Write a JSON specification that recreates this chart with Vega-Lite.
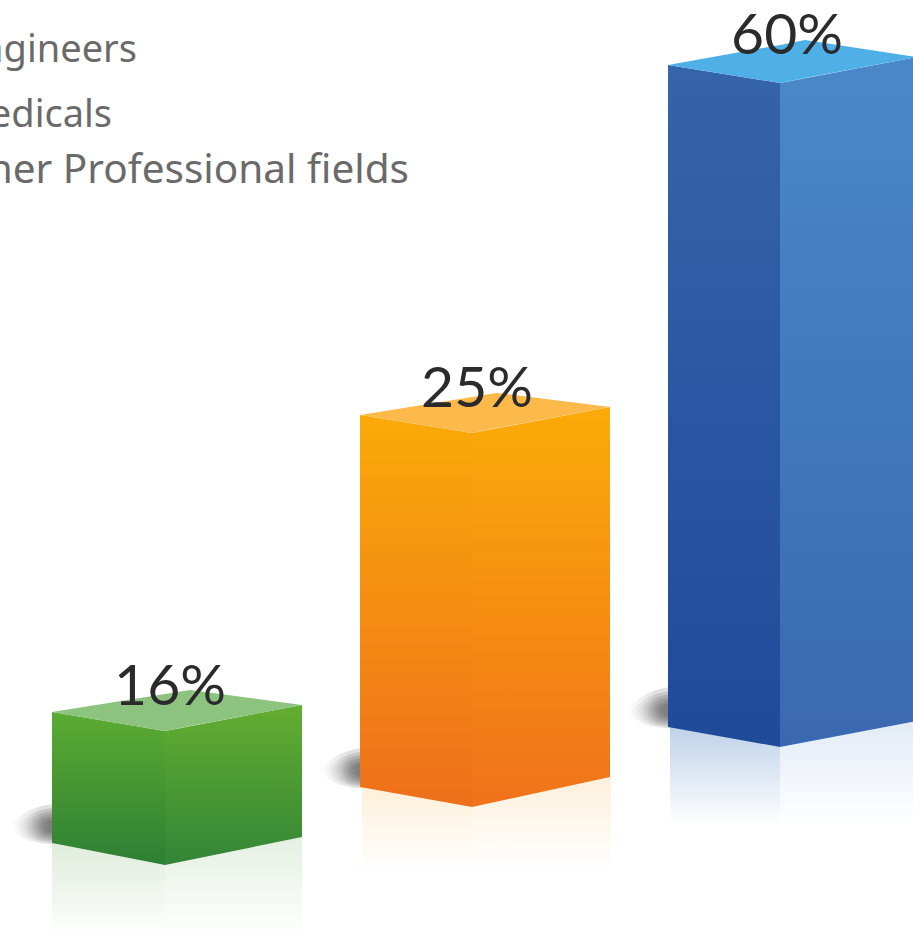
{
"$schema":"https://vega.github.io/schema/vega-lite/v6.json",
"width":913,"height":937,"autosize":{"type":"none"},"padding":0,"background":"white",
"config":{"view":{"stroke":null}},
"datasets":{
"shadows":[
{"ring":"g1","across":10,"upper":826,"lower":826},{"ring":"g1","across":28,"upper":811,"lower":840},{"ring":"g1","across":60,"upper":803,"lower":845},
{"ring":"g2","across":15,"upper":826,"lower":826},{"ring":"g2","across":31,"upper":814,"lower":838},{"ring":"g2","across":60,"upper":807,"lower":843},
{"ring":"g3","across":20,"upper":826,"lower":826},{"ring":"g3","across":34,"upper":816,"lower":836},{"ring":"g3","across":60,"upper":810,"lower":841},
{"ring":"g4","across":25,"upper":826,"lower":826},{"ring":"g4","across":37,"upper":818,"lower":834},{"ring":"g4","across":60,"upper":813,"lower":839},
{"ring":"g5","across":30,"upper":826,"lower":826},{"ring":"g5","across":40,"upper":820,"lower":832},{"ring":"g5","across":60,"upper":816,"lower":837},
{"ring":"g6","across":35,"upper":826,"lower":826},{"ring":"g6","across":43,"upper":822,"lower":830},{"ring":"g6","across":60,"upper":819,"lower":835},
{"ring":"o1","across":320,"upper":770,"lower":770},{"ring":"o1","across":338,"upper":755,"lower":784},{"ring":"o1","across":368,"upper":747,"lower":789},
{"ring":"o2","across":325,"upper":770,"lower":770},{"ring":"o2","across":341,"upper":758,"lower":782},{"ring":"o2","across":368,"upper":751,"lower":787},
{"ring":"o3","across":330,"upper":770,"lower":770},{"ring":"o3","across":344,"upper":760,"lower":780},{"ring":"o3","across":368,"upper":754,"lower":785},
{"ring":"o4","across":335,"upper":770,"lower":770},{"ring":"o4","across":347,"upper":762,"lower":778},{"ring":"o4","across":368,"upper":757,"lower":783},
{"ring":"o5","across":340,"upper":770,"lower":770},{"ring":"o5","across":350,"upper":764,"lower":776},{"ring":"o5","across":368,"upper":760,"lower":781},
{"ring":"o6","across":345,"upper":770,"lower":770},{"ring":"o6","across":353,"upper":766,"lower":774},{"ring":"o6","across":368,"upper":763,"lower":779},
{"ring":"b1","across":626,"upper":710,"lower":710},{"ring":"b1","across":645,"upper":695,"lower":724},{"ring":"b1","across":676,"upper":686,"lower":729},
{"ring":"b2","across":631,"upper":710,"lower":710},{"ring":"b2","across":648,"upper":698,"lower":722},{"ring":"b2","across":676,"upper":690,"lower":727},
{"ring":"b3","across":636,"upper":710,"lower":710},{"ring":"b3","across":651,"upper":700,"lower":720},{"ring":"b3","across":676,"upper":693,"lower":725},
{"ring":"b4","across":641,"upper":710,"lower":710},{"ring":"b4","across":654,"upper":702,"lower":718},{"ring":"b4","across":676,"upper":696,"lower":723},
{"ring":"b5","across":646,"upper":710,"lower":710},{"ring":"b5","across":657,"upper":704,"lower":716},{"ring":"b5","across":676,"upper":699,"lower":721},
{"ring":"b6","across":651,"upper":710,"lower":710},{"ring":"b6","across":660,"upper":706,"lower":714},{"ring":"b6","across":676,"upper":702,"lower":719}
],
"faces":[
{"bar":"Engineers","part":"mirrorL","across":52,"upper":843,"lower":937},
{"bar":"Engineers","part":"mirrorL","across":165,"upper":865,"lower":937},
{"bar":"Engineers","part":"mirrorR","across":165,"upper":865,"lower":937},
{"bar":"Engineers","part":"mirrorR","across":302,"upper":837,"lower":937},
{"bar":"Medicals","part":"mirrorL","across":362,"upper":787,"lower":872},
{"bar":"Medicals","part":"mirrorL","across":472,"upper":807,"lower":872},
{"bar":"Medicals","part":"mirrorR","across":472,"upper":807,"lower":872},
{"bar":"Medicals","part":"mirrorR","across":611,"upper":777,"lower":872},
{"bar":"Other","part":"mirrorL","across":670,"upper":727,"lower":825},
{"bar":"Other","part":"mirrorL","across":780,"upper":747,"lower":825},
{"bar":"Other","part":"mirrorR","across":780,"upper":747,"lower":825},
{"bar":"Other","part":"mirrorR","across":917,"upper":721,"lower":825},
{"bar":"Engineers","part":"left","across":52,"upper":712,"lower":843},
{"bar":"Engineers","part":"left","across":165,"upper":731,"lower":865},
{"bar":"Engineers","part":"right","across":165,"upper":731,"lower":865},
{"bar":"Engineers","part":"right","across":302,"upper":705,"lower":837},
{"bar":"Engineers","part":"top","across":52,"upper":712,"lower":712},
{"bar":"Engineers","part":"top","across":165,"upper":694,"lower":731},
{"bar":"Engineers","part":"top","across":190,"upper":690,"lower":726},
{"bar":"Engineers","part":"top","across":302,"upper":705,"lower":705},
{"bar":"Medicals","part":"left","across":360,"upper":415,"lower":787},
{"bar":"Medicals","part":"left","across":472,"upper":433,"lower":807},
{"bar":"Medicals","part":"right","across":472,"upper":433,"lower":807},
{"bar":"Medicals","part":"right","across":610,"upper":407,"lower":777},
{"bar":"Medicals","part":"top","across":360,"upper":415,"lower":415},
{"bar":"Medicals","part":"top","across":472,"upper":397,"lower":433},
{"bar":"Medicals","part":"top","across":497,"upper":393,"lower":428},
{"bar":"Medicals","part":"top","across":610,"upper":407,"lower":407},
{"bar":"Other","part":"left","across":668,"upper":65,"lower":727},
{"bar":"Other","part":"left","across":780,"upper":83,"lower":747},
{"bar":"Other","part":"right","across":780,"upper":83,"lower":747},
{"bar":"Other","part":"right","across":917,"upper":57,"lower":721},
{"bar":"Other","part":"top","across":668,"upper":65,"lower":65},
{"bar":"Other","part":"top","across":780,"upper":45,"lower":83},
{"bar":"Other","part":"top","across":805,"upper":40,"lower":78},
{"bar":"Other","part":"top","across":917,"upper":57,"lower":57}
],
"shares":[
{"bar":"Engineers","share":0.16,"across":170,"upper":705},
{"bar":"Medicals","share":0.25,"across":477,"upper":407},
{"bar":"Other","share":0.60,"across":787,"upper":54}
],
"names":[
{"name":"Engineers","across":137,"upper":62},
{"name":"Medicals","across":112,"upper":127},
{"name":"Other Professional fields","across":409,"upper":183}
]
},
"encoding":{
"x":{"field":"across","type":"quantitative","scale":{"domain":[0,913],"nice":false,"zero":false},"axis":null},
"y":{"field":"upper","type":"quantitative","scale":{"domain":[937,0],"nice":false,"zero":false},"axis":null},
"y2":{"field":"lower"}
},
"layer":[
{"data":{"name":"shadows"},"mark":{"type":"area","interpolate":"monotone","fill":{"gradient":"linear","x1":0,"y1":0,"x2":1,"y2":0,"stops":[{"offset":0,"color":"rgba(40,40,40,0)"},{"offset":0.6,"color":"rgba(40,40,40,0.14)"},{"offset":1,"color":"rgba(40,40,40,0.14)"}]}},"encoding":{"detail":{"field":"ring","type":"nominal"}}},
{"data":{"name":"faces"},"transform":[{"filter":"datum.part=='mirrorL'&&datum.bar=='Engineers'"}],"mark":{"type":"area","fill":{"gradient":"linear","x1":0,"y1":0,"x2":0,"y2":1,"stops":[{"offset":0,"color":"#dfecdb"},{"offset":1,"color":"#ffffff"}]}}},
{"data":{"name":"faces"},"transform":[{"filter":"datum.part=='mirrorR'&&datum.bar=='Engineers'"}],"mark":{"type":"area","fill":{"gradient":"linear","x1":0,"y1":0,"x2":0,"y2":1,"stops":[{"offset":0,"color":"#e4f0e2"},{"offset":1,"color":"#ffffff"}]}}},
{"data":{"name":"faces"},"transform":[{"filter":"datum.part=='mirrorL'&&datum.bar=='Medicals'"}],"mark":{"type":"area","fill":{"gradient":"linear","x1":0,"y1":0,"x2":0,"y2":1,"stops":[{"offset":0,"color":"#fdf0d9"},{"offset":1,"color":"#ffffff"}]}}},
{"data":{"name":"faces"},"transform":[{"filter":"datum.part=='mirrorR'&&datum.bar=='Medicals'"}],"mark":{"type":"area","fill":{"gradient":"linear","x1":0,"y1":0,"x2":0,"y2":1,"stops":[{"offset":0,"color":"#fdf0dc"},{"offset":1,"color":"#ffffff"}]}}},
{"data":{"name":"faces"},"transform":[{"filter":"datum.part=='mirrorL'&&datum.bar=='Other'"}],"mark":{"type":"area","fill":{"gradient":"linear","x1":0,"y1":0,"x2":0,"y2":1,"stops":[{"offset":0,"color":"#bfd2ea"},{"offset":1,"color":"#ffffff"}]}}},
{"data":{"name":"faces"},"transform":[{"filter":"datum.part=='mirrorR'&&datum.bar=='Other'"}],"mark":{"type":"area","fill":{"gradient":"linear","x1":0,"y1":0,"x2":0,"y2":1,"stops":[{"offset":0,"color":"#e2ebf6"},{"offset":1,"color":"#ffffff"}]}}},
{"data":{"name":"faces"},"transform":[{"filter":"datum.part=='left'&&datum.bar=='Engineers'"}],"mark":{"type":"area","fill":{"gradient":"linear","x1":0,"y1":0,"x2":0,"y2":1,"stops":[{"offset":0,"color":"#5cab32"},{"offset":1,"color":"#2e7f34"}]}}},
{"data":{"name":"faces"},"transform":[{"filter":"datum.part=='right'&&datum.bar=='Engineers'"}],"mark":{"type":"area","fill":{"gradient":"linear","x1":0,"y1":0,"x2":0,"y2":1,"stops":[{"offset":0,"color":"#63ae30"},{"offset":1,"color":"#338537"}]}}},
{"data":{"name":"faces"},"transform":[{"filter":"datum.part=='top'&&datum.bar=='Engineers'"}],"mark":{"type":"area","fill":"#8cc47f"}},
{"data":{"name":"faces"},"transform":[{"filter":"datum.part=='left'&&datum.bar=='Medicals'"}],"mark":{"type":"area","fill":{"gradient":"linear","x1":0,"y1":0,"x2":0,"y2":1,"stops":[{"offset":0,"color":"#faaa08"},{"offset":1,"color":"#ee6f1b"}]}}},
{"data":{"name":"faces"},"transform":[{"filter":"datum.part=='right'&&datum.bar=='Medicals'"}],"mark":{"type":"area","fill":{"gradient":"linear","x1":0,"y1":0,"x2":0,"y2":1,"stops":[{"offset":0,"color":"#fbab08"},{"offset":1,"color":"#f0721a"}]}}},
{"data":{"name":"faces"},"transform":[{"filter":"datum.part=='top'&&datum.bar=='Medicals'"}],"mark":{"type":"area","fill":"#fdb94a"}},
{"data":{"name":"faces"},"transform":[{"filter":"datum.part=='left'&&datum.bar=='Other'"}],"mark":{"type":"area","fill":{"gradient":"linear","x1":0,"y1":0,"x2":0,"y2":1,"stops":[{"offset":0,"color":"#3564ab"},{"offset":1,"color":"#1f4a9a"}]}}},
{"data":{"name":"faces"},"transform":[{"filter":"datum.part=='right'&&datum.bar=='Other'"}],"mark":{"type":"area","fill":{"gradient":"linear","x1":0,"y1":0,"x2":0,"y2":1,"stops":[{"offset":0,"color":"#4a88c9"},{"offset":1,"color":"#3a69b1"}]}}},
{"data":{"name":"faces"},"transform":[{"filter":"datum.part=='top'&&datum.bar=='Other'"}],"mark":{"type":"area","fill":"#4fb0e8"}},
{"data":{"name":"shares"},"mark":{"type":"text","font":"Lato","fontSize":57,"color":"#2b2b2b","baseline":"alphabetic","align":"center"},"encoding":{"text":{"field":"share","type":"quantitative","format":".0%"},"y2":null}},
{"data":{"name":"names"},"transform":[{"filter":"datum.name!='Other Professional fields'"}],"mark":{"type":"text","font":"Noto Sans","fontSize":38,"color":"#6a6a6a","baseline":"alphabetic","align":"right"},"encoding":{"text":{"field":"name","type":"nominal"},"y2":null}},
{"data":{"name":"names"},"transform":[{"filter":"datum.name=='Other Professional fields'"}],"mark":{"type":"text","font":"Noto Sans","fontSize":40.5,"color":"#6a6a6a","baseline":"alphabetic","align":"right"},"encoding":{"text":{"field":"name","type":"nominal"},"y2":null}}
]
}
